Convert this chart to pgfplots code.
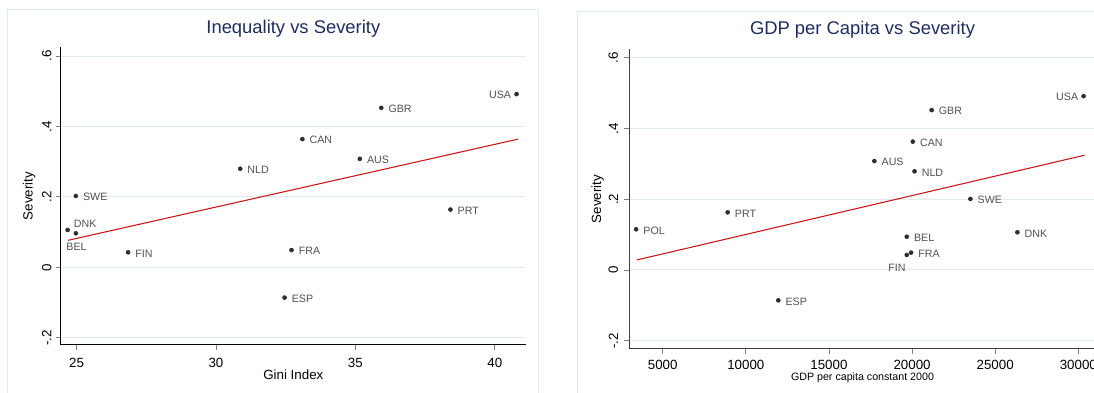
\documentclass[border=0pt]{standalone}
\usepackage{pgfplots}
\pgfplotsset{compat=1.18}
\usepackage{fontspec}
\setmainfont{Liberation Sans}
\definecolor{titlecol}{RGB}{30,45,95}
\definecolor{gridcol}{RGB}{226,234,238}
\definecolor{framecol}{RGB}{226,234,237}
\definecolor{ptcol}{RGB}{45,45,45}
\definecolor{labcol}{RGB}{80,80,80}
\definecolor{fitcol}{RGB}{200,20,25}

\pgfplotsset{
  stata/.style={
    scale only axis,
    axis x line*=bottom, axis y line*=left,
    axis line style={-, line width=0.75pt},
    tick align=outside,
    major tick length=3.75pt,
    tick style={line width=0.6pt},
    ymajorgrids, grid style={gridcol, line width=0.75pt},
    ytick={-0.2,0,0.2,0.4,0.6},
    yticklabels={-.2,0,.2,.4,.6},
    /pgf/number format/assume math mode=true,
    tick label style={font=\fontsize{10}{12}\selectfont, text=black, inner sep=0pt},
    yticklabel style={rotate=90, anchor=south},
    title style={font=\fontsize{13.8}{16}\selectfont, text=titlecol, at={(0.5,1)}, anchor=base},
    ylabel={Severity},
    ylabel style={font=\fontsize{10}{12}\selectfont, at={(axis description cs:0,0.5)}, anchor=base, yshift=21pt},
    clip=false,
  },
  pts/.style={only marks, mark=*, mark size=1.5pt, mark options={fill=ptcol, draw=ptcol},
    nodes near coords, point meta=explicit symbolic,
    every node near coord/.append style={font=\fontsize{8}{9.6}\selectfont, text=labcol, inner sep=0pt}},
}

\begin{document}
\begin{tikzpicture}
\useasboundingbox (0,0) rectangle (820.5pt,294pt);
\clip (0,0) rectangle (820.5pt,294pt);
\draw[framecol, line width=0.75pt] (5.25pt,-10pt) rectangle (403.5pt,286.5pt);
\draw[framecol, line width=0.75pt] (432.75pt,-10pt) rectangle (840pt,285pt);

% ---------------- Left panel ----------------
\begin{axis}[stata,
  at={(45.5pt,35.25pt)}, anchor=south west,
  width=349pt, height=223.3pt,
  xmin=24.43, xmax=41.12, ymin=-0.2207, ymax=0.625,
  xtick={25,30,35,40}, xticklabels={25,30,35,40},
  xticklabel style={anchor=base, yshift=-13.15pt},
  yticklabel shift=3pt,
  axis line style={black},
  title={Inequality vs Severity},
  title style={yshift=4.6pt},
  xlabel={Gini Index},
  xlabel style={font=\fontsize{10}{12}\selectfont, at={(axis description cs:0.5,0)}, anchor=base, yshift=-26.25pt},
]
\addplot[fitcol, line width=0.8pt] coordinates {(24.70,0.0767) (40.83,0.364)};
\addplot[pts, every node near coord/.append style={anchor=west, xshift=5.25pt, yshift=-0.8pt}] table[meta=lab] {
x y lab
35.93 0.453 GBR
33.10 0.364 CAN
35.16 0.308 AUS
30.87 0.280 NLD
24.975 0.2026 SWE
38.41 0.164 PRT
26.85 0.0426 FIN
32.71 0.049 FRA
32.46 -0.086 ESP
};
\addplot[pts, every node near coord/.append style={anchor=east, xshift=-3.9pt, yshift=-0.8pt}] table[meta=lab] {
x y lab
40.78 0.492 USA
};
\addplot[pts, every node near coord/.append style={anchor=west, xshift=4.5pt, yshift=4.4pt}] table[meta=lab] {
x y lab
24.68 0.106 DNK
};
\addplot[pts, every node near coord/.append style={anchor=center, xshift=0.5pt, yshift=-10.4pt}] table[meta=lab] {
x y lab
24.975 0.0966 BEL
};
\end{axis}

% ---------------- Right panel ----------------
\begin{axis}[stata,
  at={(471.75pt,32.5pt)}, anchor=south west,
  width=350.25pt, height=224.5pt,
  xmin=2972, xmax=31065, ymin=-0.2226, ymax=0.624,
  xtick={5000,10000,15000,20000,25000,30000},
  xticklabels={5000,10000,15000,20000,25000,30000},
  scaled x ticks=false,
  xticklabel style={anchor=base, yshift=-12.2pt},
  yticklabel shift=4.3pt,
  axis line style={black!75},
  title={GDP per Capita vs Severity},
  title style={yshift=5.1pt},
  xlabel={GDP per capita constant 2000},
  xlabel style={font=\fontsize{8}{9.6}\selectfont, at={(axis description cs:0.5,0)}, anchor=base, yshift=-24.2pt},
]
\addplot[fitcol, line width=0.8pt] coordinates {(3445,0.0283) (30380,0.3245)};
\addplot[pts, every node near coord/.append style={anchor=west, xshift=5.25pt, yshift=-0.8pt}] table[meta=lab] {
x y lab
21178 0.452 GBR
20043 0.363 CAN
17732 0.308 AUS
20148 0.279 NLD
23509 0.2008 SWE
8908 0.163 PRT
3403 0.115 POL
19681 0.094 BEL
26337 0.1066 DNK
19940 0.049 FRA
11954 -0.086 ESP
};
\addplot[pts, every node near coord/.append style={anchor=east, xshift=-3.9pt, yshift=-0.8pt}] table[meta=lab] {
x y lab
30317 0.4915 USA
};
\addplot[pts, every node near coord/.append style={anchor=center, xshift=-7.4pt, yshift=-9.4pt}] table[meta=lab] {
x y lab
19681 0.0424 FIN
};
\end{axis}
\end{tikzpicture}
\end{document}
